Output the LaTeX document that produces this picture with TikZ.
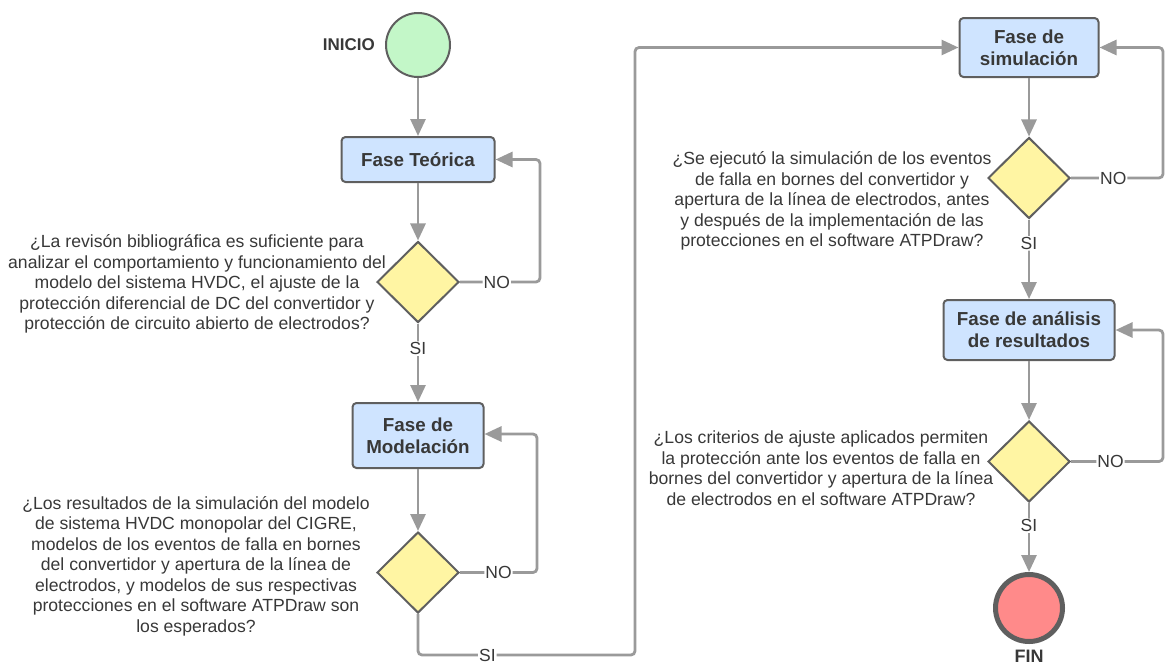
\documentclass[tikz,border=0pt]{standalone}
\usepackage{fontspec}
\setmainfont{Liberation Sans}
\usetikzlibrary{shapes.geometric,arrows.meta}
\definecolor{linegray}{HTML}{9A9A9A}
\definecolor{edgegray}{HTML}{5F5F5F}
\definecolor{boxblue}{HTML}{CFE4FF}
\definecolor{diayellow}{HTML}{FFF5A3}
\definecolor{startgreen}{HTML}{C3F7C8}
\definecolor{endred}{HTML}{FF8A8A}
\definecolor{txt}{HTML}{383838}

\begin{document}
\begin{tikzpicture}[x=1pt,y=-1pt,
  phase/.style={draw=edgegray, line width=2pt, fill=boxblue, rounded corners=4pt,
    inner sep=0pt, align=center, font=\fontsize{18.8}{22}\selectfont\bfseries, text=txt},
  decision/.style={diamond, draw=edgegray, line width=2pt, fill=diayellow,
    inner sep=0pt, minimum width=82pt, minimum height=81pt},
  terminal/.style={circle, draw=edgegray, inner sep=0pt},
  question/.style={align=center, font=\fontsize{17.6}{20.5}\selectfont, text=txt, inner sep=0pt},
  tag/.style={font=\fontsize{17}{20}\selectfont\bfseries, text=txt, inner sep=0pt},
  flow/.style={draw=linegray, line width=2.8pt, rounded corners=4pt,
    -{Triangle[width=15pt,length=17pt]}},
  lbl/.style={fill=white, inner sep=1pt, font=\fontsize{17.5}{20}\selectfont, text=txt}
]
\useasboundingbox (0,0) rectangle (1167,664);

% ---- left column ----
\node[terminal, line width=2pt, fill=startgreen, minimum size=64pt] (start) at (418,45) {};
\node[tag, anchor=east] (inicio) at ([xshift=-10pt]start.west) {INICIO};

\node[phase, minimum width=153pt, minimum height=45pt] (teo) at (418,159.5) {Fase Teórica};
\node[decision] (d1) at (418,282) {};
\node[question] (q1) at (197,284) {¿La revisón bibliográfica es suficiente para\\
  analizar el comportamiento y funcionamiento del\\
  modelo del sistema HVDC, el ajuste de la\\
  protección diferencial de DC del convertidor y\\
  protección de circuito abierto de electrodos?};

\node[phase, minimum width=131pt, minimum height=65pt] (mod) at (418,435.5) {Fase de\\Modelación};
\node[decision] (d2) at (418,572.5) {};
\node[question] (q2) at (196,566) {¿Los resultados de la simulación del modelo\\
  de sistema HVDC monopolar del CIGRE,\\
  modelos de los eventos de falla en bornes\\
  del convertidor y apertura de la línea de\\
  electrodos, y modelos de sus respectivas\\
  protecciones en el software ATPDraw son\\
  los esperados?};

% ---- right column ----
\node[phase, minimum width=139pt, minimum height=59pt] (sim) at (1029,47.5) {Fase de\\simulación};
\node[decision] (d3) at (1029,178) {};
\node[question] (q3) at (832,201) {¿Se ejecutó la simulación de los eventos\\
  de falla en bornes del convertidor y\\
  apertura de la línea de electrodos, antes\\
  y después de la implementación de las\\
  protecciones en el software ATPDraw?};

\node[phase, minimum width=171pt, minimum height=60pt] (ana) at (1029,330) {Fase de análisis\\de resultados};
\node[decision] (d4) at (1029,461.5) {};
\node[question] (q4) at (821,468) {¿Los criterios de ajuste aplicados permiten\\
  la protección ante los eventos de falla en\\
  bornes del convertidor y apertura de la línea\\
  de electrodos en el software ATPDraw?};

\node[terminal, line width=5pt, fill=endred, minimum size=67pt] (fin) at (1029,608) {};
\node[tag, font=\fontsize{18}{20}\selectfont\bfseries, anchor=south] (finlbl) at (1029,662.5) {FIN};

% ---- turning points of the connectors ----
\coordinate (loop1) at (540,0);
\coordinate (loop2) at (537,0);
\coordinate (loop3) at (1163,0);
\coordinate (bend) at (635,655);

% ---- main flow ----
\draw[flow] (start) -- (teo);
\draw[flow] (teo) -- (d1);
\draw[flow] (d1) -- node[lbl, pos=0.32] {SI} (mod);
\draw[flow] (mod) -- (d2);
\draw[flow] (d2.south) |- node[lbl, pos=0.66] {SI} (bend) |- (sim.west);
\draw[flow] (sim) -- (d3);
\draw[flow] (d3) -- node[lbl, pos=0.3] {SI} (ana);
\draw[flow] (ana) -- (d4);
\draw[flow] (d4) -- node[lbl, pos=0.33] {SI} (fin);

% ---- return loops ----
\draw[flow] (d1.east) -- node[lbl, pos=0.46] {NO} (d1.east -| loop1) |- (teo.east);
\draw[flow] (d2.east) -- node[lbl, pos=0.5] {NO} (d2.east -| loop2) |- ([yshift=1.5pt]mod.east);
\draw[flow] (d3.east) -- node[lbl, pos=0.46] {NO} (d3.east -| loop3) |- (sim.east);
\draw[flow] (d4.east) -- node[lbl, pos=0.43] {NO} (d4.east -| loop3) |- (ana.east);
\end{tikzpicture}
\end{document}
